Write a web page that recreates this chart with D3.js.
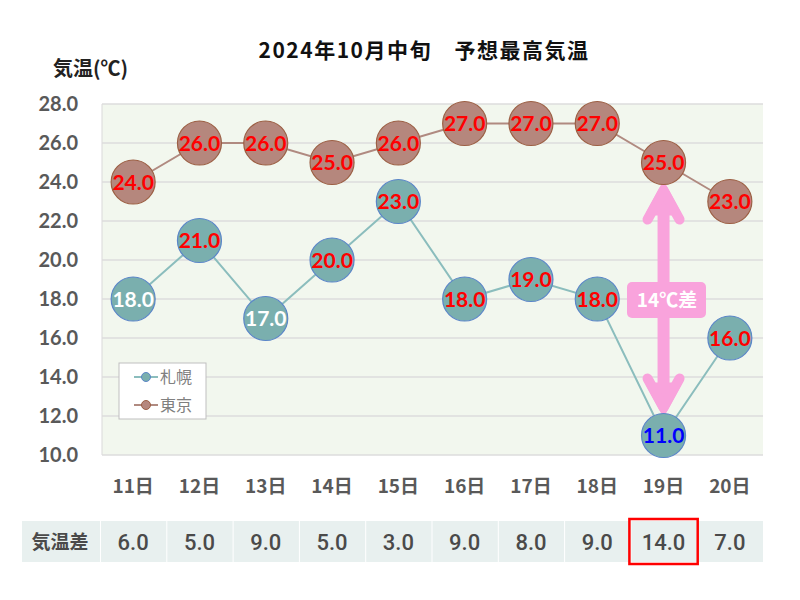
<!DOCTYPE html>
<html><head><meta charset="utf-8">
<script src="https://cdn.jsdelivr.net/npm/d3@7"></script>
<style>body{margin:0;background:#fff}</style>
</head><body>
<svg id="c" width="800" height="600"></svg>
<script>
const days = ["11日","12日","13日","14日","15日","16日","17日","18日","19日","20日"];
const sapporo = [18,21,17,20,23,18,19,18,11,16];
const tokyo = [24,26,26,25,26,27,27,27,25,23];
const diffs = [6,5,9,5,3,9,8,9,14,7];
const sapporoLabelColors = ["#ffffff","#ff0000","#ffffff","#ff0000","#ff0000","#ff0000","#ff0000","#ff0000","#0000ff","#ff0000"];
const yTicks = [10,12,14,16,18,20,22,24,26,28];
const title = "2024年10月中旬　予想最高気温";
const yTitle = "気温(℃)";
const diffLabel = "気温差";
const arrowLabel = "14℃差";
const highlightIndex = 8;

const svg = d3.select("#c");
const jp = "'Noto Sans CJK JP','Noto Sans',sans-serif";
const num = "Lato,'Noto Sans',sans-serif";
const L = 100, R = 763, T = 104, B = 455;

const x = d3.scaleBand().domain(days).range([L, R]);
const y = d3.scaleLinear().domain([10, 28]).range([B, T]);

// plot background
svg.append("rect").attr("x", L+2).attr("y", T).attr("width", R-L-2).attr("height", B-T).attr("fill", "#f2f7ee");
svg.append("line").attr("x1", L+2).attr("x2", L+2).attr("y1", T).attr("y2", B).attr("stroke", "#d9d9d9");

// gridlines
svg.append("g").selectAll("line").data(yTicks).join("line")
  .attr("x1", L+2).attr("x2", R).attr("y1", d => y(d)).attr("y2", d => y(d))
  .attr("stroke", "#dcdcdc").attr("stroke-width", 1.5);

// y axis labels
const yAxis = d3.axisLeft(y).tickValues(yTicks).tickFormat(d3.format(".1f")).tickSize(0).tickPadding(0);
const ya = svg.append("g").attr("transform", `translate(${78},0)`).call(yAxis);
ya.select(".domain").remove();
ya.selectAll("text").attr("font-family", num).attr("font-weight", "bold").attr("font-size", 20).attr("fill", "#595959");

// x axis labels
const xAxis = d3.axisBottom(x).tickSize(0).tickPadding(0);
const xa = svg.append("g").attr("transform", `translate(0,${479})`).call(xAxis);
xa.select(".domain").remove();
xa.selectAll("text").attr("font-family", jp).attr("font-weight", "bold").attr("font-size", 19).attr("fill", "#595959");

// titles
svg.append("text").attr("x", 424).attr("y", 58).attr("text-anchor", "middle")
  .attr("font-family", jp).attr("font-weight", "bold").attr("font-size", 21).attr("letter-spacing", 1.5).attr("fill", "#111").text(title);
svg.append("text").attr("x", 53).attr("y", 76)
  .attr("font-family", jp).attr("font-weight", "bold").attr("font-size", 20).attr("fill", "#222").text(yTitle);

const cx = d => x(d) + x.bandwidth()/2;
const line = d3.line().x((d,i) => cx(days[i])).y(d => y(d));

svg.append("path").datum(tokyo).attr("d", line).attr("fill", "none").attr("stroke", "#b08a80").attr("stroke-width", 2);
svg.append("path").datum(sapporo).attr("d", line).attr("fill", "none").attr("stroke", "#8bbdbd").attr("stroke-width", 2);

// arrow
const ax = cx(days[highlightIndex]);
const pink = "#f9a3dc";
const aTop = y(tokyo[highlightIndex]) + 24, aBot = y(sapporo[highlightIndex]) - 24;
svg.append("line").attr("x1", ax).attr("x2", ax).attr("y1", aTop + 10).attr("y2", aBot - 10).attr("stroke", pink).attr("stroke-width", 12);
[[aTop, 1], [aBot, -1]].forEach(([tip, s]) => {
  svg.append("path").attr("d", `M${ax},${tip} L${ax-14},${tip + s*26} L${ax+14},${tip + s*26}Z`)
    .attr("fill", pink).attr("stroke", pink).attr("stroke-width", 6).attr("stroke-linejoin", "round");
  svg.append("polyline").attr("points", `${ax-16},${tip + s*33} ${ax},${tip + s*4} ${ax+16},${tip + s*33}`)
    .attr("fill", "none").attr("stroke", pink).attr("stroke-width", 10).attr("stroke-linecap", "round").attr("stroke-linejoin", "round");
});
svg.append("rect").attr("x", 627).attr("y", 282).attr("width", 79).attr("height", 36).attr("rx", 5).attr("fill", pink);
svg.append("text").attr("x", 667).attr("y", 307).attr("text-anchor", "middle")
  .attr("font-family", jp).attr("font-weight", "bold").attr("font-size", 19).attr("fill", "#fff").text(arrowLabel);

// markers
const r = 22;
function drawSeries(data, fill, stroke, colors) {
  const g = svg.append("g");
  g.selectAll("circle").data(data).join("circle")
    .attr("cx", (d,i) => cx(days[i])).attr("cy", d => y(d)).attr("r", r)
    .attr("fill", fill).attr("stroke", stroke).attr("stroke-width", 1.2);
  g.selectAll("text").data(data).join("text")
    .attr("x", (d,i) => cx(days[i])).attr("y", d => y(d) + 7.5).attr("text-anchor", "middle")
    .attr("font-family", num).attr("font-weight", "bold").attr("font-size", 21)
    .attr("fill", (d,i) => colors[i]).text(d => d3.format(".1f")(d));
}
drawSeries(tokyo, "#b5877d", "#9c5f44", tokyo.map(() => "#ff0000"));
drawSeries(sapporo, "#7aafae", "#5b86c8", sapporoLabelColors);

// legend
const lg = svg.append("g");
lg.append("rect").attr("x", 119).attr("y", 363).attr("width", 87).attr("height", 56).attr("fill", "#fff").attr("stroke", "#bfbfbf");
const legendItems = [["札幌", "#8bbdbd", "#7aafae", "#5b86c8"], ["東京", "#b08a80", "#b5877d", "#9c5f44"]];
legendItems.forEach((it, i) => {
  const yy = 377 + i*28;
  lg.append("line").attr("x1", 134).attr("x2", 158).attr("y1", yy).attr("y2", yy).attr("stroke", it[1]).attr("stroke-width", 2);
  lg.append("circle").attr("cx", 146).attr("cy", yy).attr("r", 4.5).attr("fill", it[2]).attr("stroke", it[3]);
  lg.append("text").attr("x", 160).attr("y", yy + 6).attr("font-family", jp).attr("font-size", 16).attr("fill", "#808080").text(it[0]);
});

// table
const tT = 521, tH = 41;
const tg = svg.append("g");
tg.append("rect").attr("x", 22).attr("y", tT).attr("width", 78).attr("height", tH).attr("fill", "#e8f0ef");
tg.selectAll("rect.c").data(days).join("rect").attr("class", "c")
  .attr("x", d => x(d) + 1).attr("y", tT).attr("width", x.bandwidth() - 1).attr("height", tH).attr("fill", "#e8f0ef");
tg.append("text").attr("x", 60).attr("y", tT + 28).attr("text-anchor", "middle")
  .attr("font-family", jp).attr("font-weight", "bold").attr("font-size", 19).attr("fill", "#4a4a4a").text(diffLabel);
tg.selectAll("text.v").data(diffs).join("text").attr("class", "v")
  .attr("x", (d,i) => cx(days[i])).attr("y", tT + 29).attr("text-anchor", "middle")
  .attr("font-family", "Roboto,sans-serif").attr("font-weight", 500).attr("font-size", 22).attr("fill", "#4a4a4a")
  .text(d => d3.format(".1f")(d));
tg.append("rect").attr("x", x(days[highlightIndex]) - 1).attr("y", tT - 2).attr("width", x.bandwidth() + 2).attr("height", tH + 4)
  .attr("fill", "none").attr("stroke", "#ff0000").attr("stroke-width", 2.5);
</script>
</body></html>
